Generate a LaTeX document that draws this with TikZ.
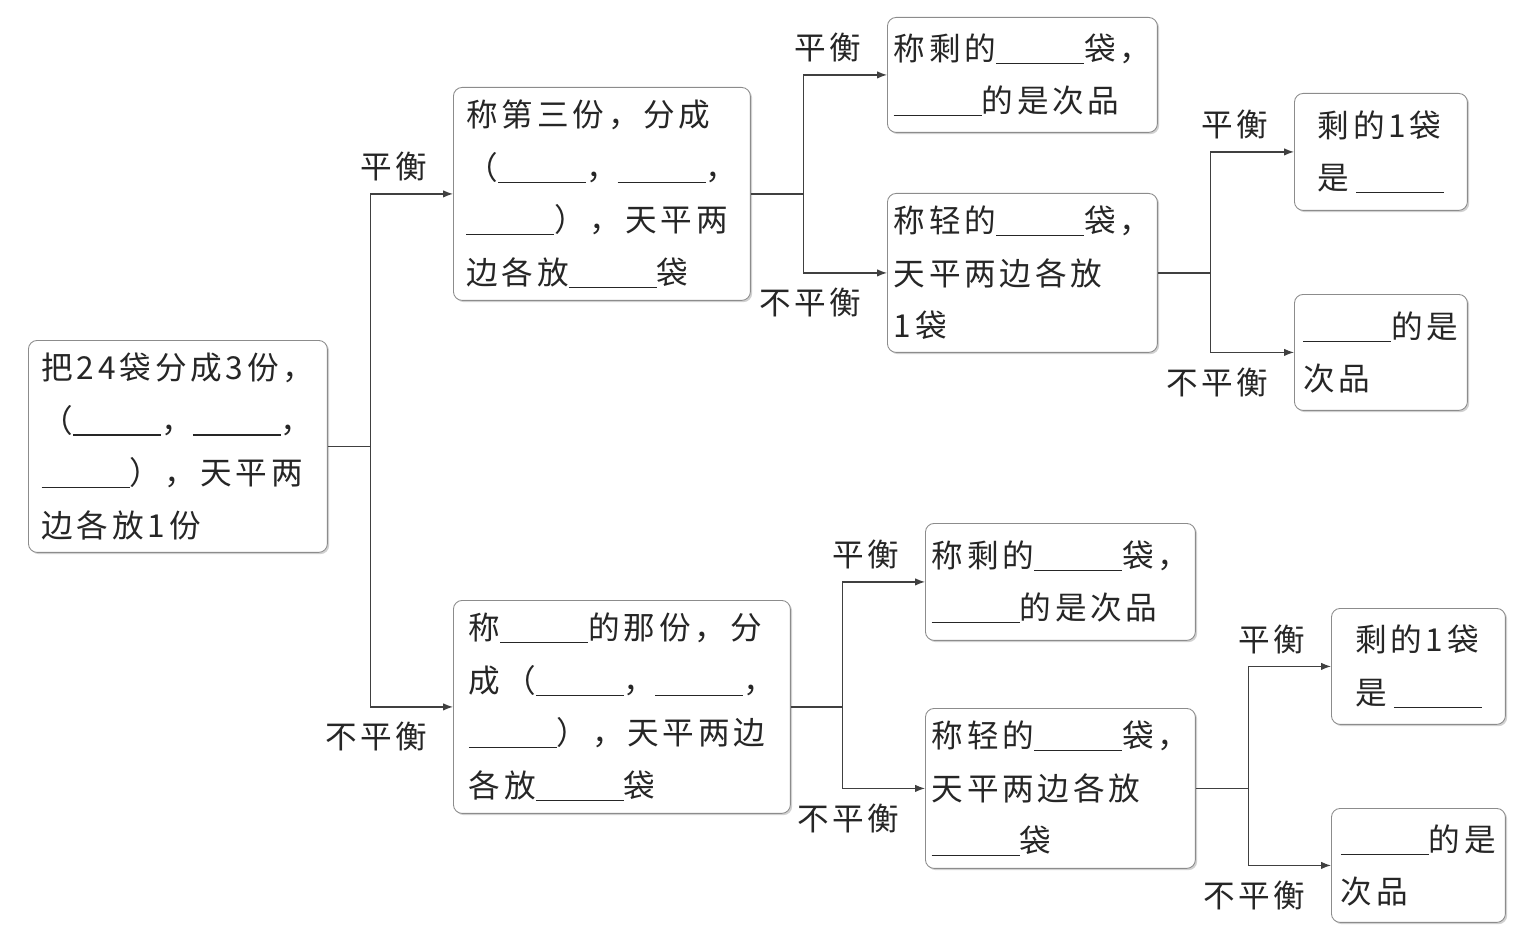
\documentclass[tikz,border=0pt]{standalone}
\usepackage{fontspec}
\setmainfont{Noto Sans CJK SC}[LetterSpace=12]
\usetikzlibrary{arrows.meta,shadows}
\newcommand\blank{\rule[-0.07cm]{1.76cm}{0.6pt}}
\tikzset{
  every node/.style={
    font=\fontsize{18pt}{30pt}\selectfont
  },
  card/.style n args={2}{
    shape=rectangle,
    rounded corners=5pt,
    draw=black!45,
    line width=0.5pt,
    fill=white,
    drop shadow={shadow xshift=1pt,shadow yshift=-1pt,fill=black!30,opacity=0.6},
    minimum width=#1cm,
    minimum height=#2cm,
    inner sep=3pt,
    align=left,
    anchor=north west,
    text=black!85
  },
  link/.style={
    draw=black!75,
    line width=0.7pt
  },
  arrow/.style={
    link,
    -{Latex[length=2mm,width=1.5mm]}
  },
  bal/.style={
    anchor=east,
    xshift=-0.38cm,
    yshift=0.54cm,
    text=black!85
  },
  unbal/.style={
    anchor=east,
    xshift=-0.38cm,
    yshift=-0.6cm,
    text=black!85
  }
}

\begin{document}
\begin{tikzpicture}[x=0.02cm,y=-0.02cm]
  \useasboundingbox (0,0) rectangle (1534,939);

  \node [card={5.98}{4.24}] (root) at (28,340) {
    把24袋分成3份，\\（\blank{}，\blank{}，\\\blank{}），天平两\\边各放1份 };

  \node [card={5.94}{4.26}] (first) at (453,87) {
    称第三份，分成\\（\blank{}，\blank{}，\\\blank{}），天平两\\边各放\blank{}袋 };
  \node [card={6.74}{4.26}] (second) at (453,600) {
    称\blank{}的那份，分\\成（\blank{}，\blank{}，\\\blank{}），天平两边\\各放\blank{}袋 };

  \node [card={5.40}{2.30}] (upEq) at (887,17) {
    称剩的\blank{}袋，\\\blank{}的是次品 };
  \node [card={5.40}{3.18}] (upNeq) at (887,193) {
    称轻的\blank{}袋，\\天平两边各放\\1袋 };
  \node [card={5.40}{2.34}] (downEq) at (925,523) {
    称剩的\blank{}袋，\\\blank{}的是次品 };
  \node [card={5.40}{3.20}] (downNeq) at (925,708) {
    称轻的\blank{}袋，\\天平两边各放\\\blank{}袋 };

  \node [card={3.46}{2.34}] (upEnd1) at (1294,93) {
    剩的1袋\\是\hspace{4pt}\blank{} };
  \node [card={3.46}{2.32}] (upEnd2) at (1294,294) {
    \blank{}的是\\次品 };
  \node [card={3.48}{2.32}] (downEnd1) at (1331,608) {
    剩的1袋\\是\hspace{4pt}\blank{} };
  \node [card={3.48}{2.28}] (downEnd2) at (1331,808) {
    \blank{}的是\\次品 };

  \draw [link] (root.east) -- ++(43,0) coordinate (j0);
  \draw [arrow] (j0) |- (first.west) node [at end,bal] {平衡};
  \draw [arrow] (j0) |- (second.west) node [at end,unbal] {不平衡};

  \draw [link] (first.east) -- ++(53,0) coordinate (j1);
  \draw [arrow] (j1) |- (upEq.west) node [at end,bal] {平衡};
  \draw [arrow] (j1) |- (upNeq.west) node [at end,unbal] {不平衡};

  \draw [link] (upNeq.east) -- ++(53,0) coordinate (j2);
  \draw [arrow] (j2) |- (upEnd1.west) node [at end,bal] {平衡};
  \draw [arrow] (j2) |- (upEnd2.west) node [at end,unbal] {不平衡};

  \draw [link] (second.east) -- ++(52,0) coordinate (j3);
  \draw [arrow] (j3) |- (downEq.west) node [at end,bal] {平衡};
  \draw [arrow] (j3) |- (downNeq.west) node [at end,unbal] {不平衡};

  \draw [link] (downNeq.east) -- ++(53,0) coordinate (j4);
  \draw [arrow] (j4) |- (downEnd1.west) node [at end,bal] {平衡};
  \draw [arrow] (j4) |- (downEnd2.west) node [at end,unbal] {不平衡};
\end{tikzpicture}
\end{document}
